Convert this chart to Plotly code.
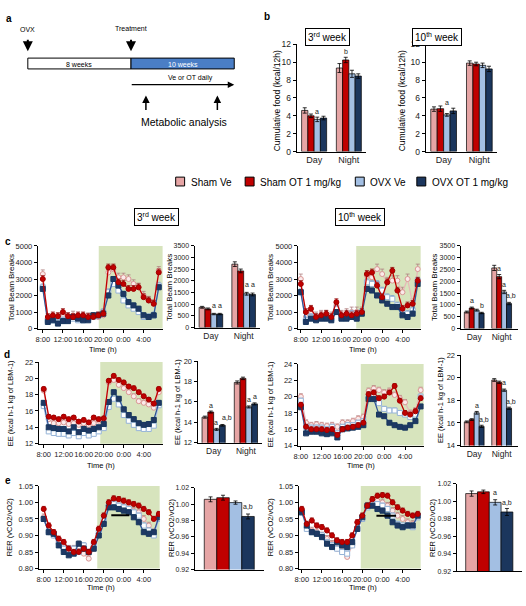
import plotly.graph_objects as go

W, H = 526, 606
FONT = "Liberation Sans, Arial, sans-serif"

# ---------------- data ----------------
groups = ["Sham Ve", "Sham OT 1 mg/kg", "OVX Ve", "OVX OT 1 mg/kg"]
periods = ["Day", "Night"]
hours = list(range(24))
hour_ticks = [0, 4, 8, 12, 16, 20]
hour_labels = ["8:00", "12:00", "16:00", "20:00", "0:00", "4:00"]

# panel b: cumulative food (kcal/12h), [Day, Night] per group
food_w3 = [[4.6, 9.35], [4.0, 10.25], [3.6, 8.7], [3.75, 8.45]]
food_w3_err = [[0.3, 0.5], [0.2, 0.3], [0.25, 0.4], [0.2, 0.25]]
food_w10 = [[4.75, 9.9], [4.8, 9.8], [4.1, 9.65], [4.55, 9.25]]
food_w10_err = [[0.25, 0.25], [0.3, 0.2], [0.15, 0.25], [0.3, 0.3]]

# panel c: total beam breaks (hourly)
beam_w3_sham_ve = [3300, 600, 600, 700, 700, 700, 800, 600, 700, 700, 700, 700, 800, 3400, 3600, 3100, 3100, 3000, 2700, 2500, 2000, 1700, 1500, 3500]
beam_w3_sham_ot = [3000, 700, 800, 750, 1000, 750, 700, 800, 800, 700, 700, 800, 900, 3700, 3700, 2800, 2700, 2400, 2400, 2500, 1900, 1700, 1500, 3400]
beam_w3_ovx_ve = [2500, 500, 500, 400, 500, 600, 600, 500, 500, 600, 700, 800, 1000, 2200, 2700, 2300, 1700, 1400, 1200, 1000, 700, 700, 800, 2600]
beam_w3_ovx_ot = [2400, 400, 500, 300, 450, 450, 700, 600, 500, 500, 800, 800, 900, 2000, 3000, 2600, 2100, 1600, 1400, 1200, 800, 700, 800, 2500]
beam_w10_sham_ve = [3000, 700, 900, 700, 800, 800, 700, 1400, 800, 900, 1000, 1000, 1000, 3200, 3100, 3600, 3300, 2800, 2900, 2900, 2200, 3000, 1500, 3600]
beam_w10_sham_ot = [2700, 1000, 1200, 700, 800, 900, 700, 1600, 800, 900, 800, 900, 1000, 3300, 3400, 2600, 1900, 2800, 3500, 2300, 1200, 1400, 1500, 2900]
beam_w10_ovx_ve = [2200, 500, 700, 600, 700, 700, 600, 1200, 700, 700, 900, 800, 1000, 2800, 2700, 2700, 2300, 1900, 1800, 1400, 900, 900, 1100, 2900]
beam_w10_ovx_ot = [2200, 400, 600, 500, 600, 600, 500, 1000, 600, 600, 700, 600, 900, 2400, 2300, 2000, 1700, 1500, 1300, 1300, 800, 700, 900, 2700]
beam_bar_w3 = [[870, 2720], [800, 2430], [580, 1450], [580, 1420]]
beam_bar_w3_err = [[40, 100], [40, 80], [30, 60], [30, 60]]
beam_bar_w10 = [[700, 2570], [870, 2200], [780, 1550], [660, 1060]]
beam_bar_w10_err = [[40, 110], [40, 90], [40, 70], [30, 50]]

# panel d: energy expenditure
ee_w3_sham_ve = [18.5, 15.0, 14.5, 14.5, 14.6, 14.4, 14.5, 14.3, 14.5, 14.3, 14.5, 14.8, 14.8, 19.5, 19.8, 19.2, 18.8, 18.3, 17.8, 17.2, 17.0, 16.8, 16.4, 18.3]
ee_w3_sham_ot = [18.7, 15.3, 15.2, 15.0, 15.3, 15.0, 15.2, 14.7, 14.9, 14.6, 15.2, 15.0, 15.1, 19.7, 20.3, 19.8, 19.5, 19.0, 18.8, 18.3, 17.8, 17.4, 16.9, 18.7]
ee_w3_ovx_ve = [16.6, 13.5, 13.3, 13.2, 13.2, 13.0, 13.3, 12.9, 13.3, 13.0, 13.2, 13.5, 13.9, 16.5, 17.5, 16.8, 15.5, 14.8, 14.3, 13.9, 13.8, 13.8, 14.2, 16.7]
ee_w3_ovx_ot = [17.0, 14.0, 13.9, 13.8, 13.8, 13.5, 14.0, 13.4, 13.8, 13.6, 13.8, 14.0, 14.4, 17.1, 18.3, 17.5, 16.2, 15.5, 15.0, 14.5, 14.3, 14.4, 14.9, 17.0]
ee_w10_sham_ve = [20.0, 16.8, 16.5, 16.6, 16.5, 16.4, 16.5, 16.3, 16.8, 16.8, 17.0, 17.3, 17.5, 20.7, 21.0, 20.8, 20.5, 20.7, 20.2, 19.8, 19.3, 18.0, 18.3, 20.8]
ee_w10_sham_ot = [19.0, 16.3, 16.0, 16.0, 16.0, 15.9, 16.0, 15.3, 16.0, 16.2, 16.3, 16.5, 16.8, 20.3, 20.5, 19.8, 20.0, 20.5, 21.3, 19.5, 18.0, 17.8, 18.2, 19.8]
ee_w10_ovx_ve = [19.5, 16.3, 16.2, 16.2, 16.2, 16.0, 16.3, 15.5, 16.3, 16.5, 16.5, 16.8, 17.0, 20.0, 20.0, 19.2, 18.5, 18.3, 18.3, 18.0, 17.8, 17.5, 17.8, 20.0]
ee_w10_ovx_ot = [18.7, 15.5, 15.7, 15.7, 15.5, 15.4, 15.5, 15.0, 16.0, 16.1, 16.2, 16.3, 16.5, 19.7, 19.7, 17.8, 17.6, 16.8, 16.5, 16.3, 16.2, 16.5, 17.0, 18.8]
ee_bar_w3 = [[14.5, 17.9], [15.0, 18.3], [13.3, 15.5], [13.7, 15.8]]
ee_bar_w3_err = [[0.1, 0.15], [0.1, 0.12], [0.1, 0.1], [0.08, 0.1]]
ee_bar_w10 = [[16.1, 19.8], [16.3, 19.6], [16.9, 18.9], [15.7, 17.3]]
ee_bar_w10_err = [[0.08, 0.12], [0.08, 0.1], [0.12, 0.1], [0.1, 0.1]]

# panel e: RER
rer_w3_sham_ve = [0.955, 0.91, 0.90, 0.88, 0.87, 0.86, 0.86, 0.85, 0.845, 0.83, 0.86, 0.90, 0.94, 0.99, 1.00, 0.995, 0.99, 0.985, 0.975, 0.97, 0.95, 0.93, 0.91, 0.96]
rer_w3_sham_ot = [0.98, 0.93, 0.91, 0.89, 0.88, 0.86, 0.85, 0.85, 0.86, 0.85, 0.88, 0.92, 0.96, 1.00, 1.012, 1.01, 1.005, 1.00, 0.995, 0.99, 0.98, 0.97, 0.95, 0.965]
rer_w3_ovx_ve = [0.95, 0.91, 0.90, 0.88, 0.86, 0.86, 0.86, 0.85, 0.87, 0.85, 0.87, 0.91, 0.945, 0.99, 0.995, 0.99, 0.985, 0.98, 0.97, 0.96, 0.93, 0.915, 0.90, 0.95]
rer_w3_ovx_ot = [0.95, 0.91, 0.905, 0.87, 0.85, 0.84, 0.845, 0.875, 0.86, 0.85, 0.86, 0.90, 0.935, 0.985, 0.985, 0.98, 0.975, 0.97, 0.955, 0.94, 0.91, 0.905, 0.91, 0.955]
rer_w10_sham_ve = [0.975, 0.92, 0.915, 0.91, 0.90, 0.89, 0.875, 0.86, 0.85, 0.835, 0.87, 0.92, 0.95, 0.99, 1.005, 1.005, 1.00, 0.99, 0.975, 0.96, 0.95, 0.94, 0.935, 0.96]
rer_w10_sham_ot = [0.98, 0.935, 0.945, 0.93, 0.925, 0.915, 0.90, 0.885, 0.88, 0.88, 0.90, 0.94, 0.96, 0.99, 1.01, 1.02, 1.022, 1.02, 1.00, 0.985, 0.975, 0.965, 0.96, 0.965]
rer_w10_ovx_ve = [0.97, 0.92, 0.91, 0.905, 0.90, 0.88, 0.87, 0.86, 0.85, 0.845, 0.87, 0.92, 0.95, 0.985, 0.995, 0.995, 0.99, 0.98, 0.96, 0.935, 0.93, 0.93, 0.925, 0.955]
rer_w10_ovx_ot = [0.97, 0.93, 0.91, 0.905, 0.895, 0.875, 0.865, 0.88, 0.87, 0.865, 0.88, 0.92, 0.955, 0.99, 0.99, 0.98, 0.975, 0.96, 0.94, 0.93, 0.925, 0.93, 0.93, 0.96]
rer_bar_w3 = [1.006, 1.008, 1.002, 0.985]
rer_bar_w3_err = [0.003, 0.003, 0.002, 0.003]
rer_bar_w10 = [1.009, 1.011, 0.999, 0.988]
rer_bar_w10_err = [0.003, 0.002, 0.003, 0.004]

# ---------------- styles ----------------
bar_colors = ["#E6A5A5", "#C00000", "#A3BFE3", "#1B365D"]
line_colors = ["#E6B9B8", "#C00000", "#B4C8E6", "#2F5597"]
marker_fill = ["#FBEAEA", "#C00000", "#FFFFFF", "#1F3864"]
marker_edge = ["#D99694", "#A00000", "#95B3D7", "#17375E"]
err_colors = ["#B08080", "#900000", "#7F9FC8", "#17375E"]
marker_symbol = ["circle", "circle", "square", "square"]
draw_order = [0, 2, 3, 1]
GREEN = "#D7E4BD"
BARGAP = 0.28
TICK = 7.5

fig = go.Figure()
layout = dict(width=W, height=H, margin=dict(l=0, r=0, t=0, b=0),
              paper_bgcolor="white", plot_bgcolor="rgba(0,0,0,0)",
              showlegend=False, barmode="group", bargap=BARGAP, bargroupgap=0,
              font=dict(family=FONT, color="black"))
shapes, annotations = [], []


def ax_names(n):
    return ("x" if n == 1 else f"x{n}"), ("y" if n == 1 else f"y{n}")


def make_axes(n, x0, x1, ytop, ybot, yr, dtick, xkind, xr=None, tfs=TICK, xfs=8.5, yfmt=None):
    xs, ys = ax_names(n)
    common = dict(showline=True, linecolor="black", linewidth=1, showgrid=False,
                  zeroline=False, tickcolor="black", tickwidth=1, tickangle=0,
                  tickfont=dict(size=tfs, family=FONT, color="#222"))
    xa = dict(common, domain=[x0 / W, x1 / W], anchor=ys)
    if xkind == "hours":
        xa.update(range=xr, tickvals=hour_ticks, ticktext=hour_labels, ticks="outside", ticklen=3,
                  tickfont=dict(size=TICK, family=FONT, color="#222"))
    elif xkind == "cat":
        xa.update(type="category", ticks="", tickfont=dict(size=xfs, family=FONT, color="#222"))
    else:
        xa.update(type="category", ticks="", showticklabels=False)
    ya = dict(common, domain=[1 - ybot / H, 1 - ytop / H], anchor=xs, range=yr,
              dtick=dtick, tick0=yr[0], ticks="outside", ticklen=3)
    if yfmt:
        ya["tickformat"] = yfmt
    layout["xaxis" if n == 1 else f"xaxis{n}"] = xa
    layout["yaxis" if n == 1 else f"yaxis{n}"] = ya


def add_bars(n, values, errs, cats):
    xs, ys = ax_names(n)
    for i in range(4):
        yv = values[i] if isinstance(values[i], list) else [values[i]]
        ev = errs[i] if isinstance(errs[i], list) else [errs[i]]
        fig.add_trace(go.Bar(x=cats, y=yv, name=groups[i], xaxis=xs, yaxis=ys,
                             marker=dict(color=bar_colors[i], line=dict(color="black", width=0.7)),
                             error_y=dict(type="data", array=ev, color="black", thickness=0.8, width=2),
                             showlegend=False))


def add_lines(n, series, errval, xr, shade_start):
    xs, ys = ax_names(n)
    shapes.append(dict(type="rect", xref=xs, yref=f"{ys} domain", x0=shade_start, x1=xr[1],
                       y0=0, y1=1, fillcolor=GREEN, line=dict(width=0), layer="below"))
    for i in draw_order:
        fig.add_trace(go.Scatter(x=hours, y=series[i], xaxis=xs, yaxis=ys, mode="lines+markers",
                                 name=groups[i],
                                 line=dict(color=line_colors[i], width=1.3),
                                 marker=dict(symbol=marker_symbol[i], size=5, color=marker_fill[i],
                                             line=dict(color=marker_edge[i], width=1)),
                                 error_y=dict(type="constant", value=errval[i], valueminus=0,
                                              symmetric=False, color=err_colors[i], thickness=0.8, width=2),
                                 showlegend=False))


def txt(x, y, text, size=8, color="black", angle=0, xanchor="center", yanchor="middle", bold=False, **kw):
    if bold:
        text = f"<b>{text}</b>"
    annotations.append(dict(x=x / W, y=1 - y / H, xref="paper", yref="paper", text=text,
                            showarrow=False, font=dict(size=size, color=color, family=FONT),
                            textangle=angle, xanchor=xanchor, yanchor=yanchor, **kw))


def letter(n, cat_idx, grp, y, text, xshift=0):
    xs, ys = ax_names(n)
    w = (1 - BARGAP) / 4
    xoff = -(1 - BARGAP) / 2 + w * (grp + 0.5)
    annotations.append(dict(x=cat_idx + xoff, y=y, xref=xs, yref=ys, text=text, showarrow=False,
                            font=dict(size=7, family=FONT, color="#222"), yanchor="bottom",
                            xshift=xshift))


def arrow(x_tip, y_tip, ax, ay, width=1.5):
    annotations.append(dict(x=x_tip / W, y=1 - y_tip / H, xref="paper", yref="paper", text="",
                            showarrow=True, ax=ax, ay=ay, axref="pixel", ayref="pixel",
                            arrowhead=2, arrowsize=1, arrowwidth=width, arrowcolor="black"))


def prect(x0, y0, x1, y1, fill, lw=1):
    shapes.append(dict(type="rect", xref="paper", yref="paper", x0=x0 / W, x1=x1 / W,
                       y0=1 - y1 / H, y1=1 - y0 / H, fillcolor=fill, line=dict(color="black", width=lw)))


def week_box(cx, cy, label):
    annotations.append(dict(x=cx / W, y=1 - cy / H, xref="paper", yref="paper", text=label,
                            showarrow=False, font=dict(size=10, family=FONT, color="black"),
                            bordercolor="black", borderwidth=1, borderpad=2, bgcolor="white"))


# ---------------- panel a ----------------
txt(5, 14, "a", size=10, bold=True)
txt(24, 25, "OVX", size=7)
arrow(24, 47, 0, -13, width=2)
txt(128, 24, "Treatment", size=7)
arrow(128, 47, 0, -13, width=2)
prect(24, 54, 128, 65, "white")
prect(128, 54, 232, 65, "#4A7EC6")
txt(76, 60, "8 weeks", size=7)
txt(180, 60, "10 weeks", size=7, color="white")
txt(188, 74, "Ve or OT daily", size=7)
arrow(232, 81, -104, 0, width=1.3)
arrow(143, 92, 0, 16, width=1.5)
arrow(215, 92, 0, 16, width=1.5)
txt(181, 119, "Metabolic analysis", size=10.5)

# ---------------- panel b ----------------
txt(265, 12, "b", size=10, bold=True)
make_axes(1, 295, 365, 40, 149, [0, 12], 2, "cat", tfs=8.5, xfs=9)
add_bars(1, food_w3, food_w3_err, periods)
make_axes(2, 425, 497, 40, 149, [0, 12], 2, "cat", tfs=8.5, xfs=9)
add_bars(2, food_w10, food_w10_err, periods)
txt(275, 97, "Cumulative food (kcal/12h)", size=8.5, angle=-90)
txt(401, 97, "Cumulative food (kcal/12h)", size=8.5, angle=-90)
week_box(326, 23, "3<sup>rd</sup> week")
week_box(462, 23, "10<sup>th</sup> week")
letter(1, 0, 2, 3.9, "a")
letter(1, 1, 1, 10.6, "b")
letter(2, 0, 2, 4.9, "a")

# legend
leg_x = [173, 243, 354, 416]
for i in range(4):
    prect(leg_x[i], 175, leg_x[i] + 9, 184, bar_colors[i], lw=1)
    txt(leg_x[i] + 13, 180, groups[i], size=10, xanchor="left")

# week boxes for c-e
week_box(131, 216, "3<sup>rd</sup> week")
week_box(384, 216, "10<sup>th</sup> week")

# ---------------- panel c ----------------
txt(4, 240, "c", size=10, bold=True)
XR_L = [-1, 23.8]
XR_R = [-0.6, 23.6]
make_axes(3, 34, 160, 245, 329, [0, 5000], 1000, "hours", XR_L)
add_lines(3, [beam_w3_sham_ve, beam_w3_sham_ot, beam_w3_ovx_ve, beam_w3_ovx_ot], [250, 200, 200, 150], XR_L, 11.1)
make_axes(4, 192, 258, 245, 328, [0, 3500], 500, "cat", tfs=7)
add_bars(4, beam_bar_w3, beam_bar_w3_err, periods)
make_axes(5, 296, 420, 245, 329, [0, 5000], 1000, "hours", XR_R)
add_lines(5, [beam_w10_sham_ve, beam_w10_sham_ot, beam_w10_ovx_ve, beam_w10_ovx_ot], [300, 200, 200, 150], XR_R, 10.9)
make_axes(6, 460, 518, 245, 329, [0, 3500], 500, "cat", tfs=7)
add_bars(6, beam_bar_w10, beam_bar_w10_err, periods)
for x in [7, 167, 268, 434]:
    txt(x, 287, "Total Beam Breaks", size=8, angle=-90)
txt(100, 350, "Time (h)", size=7.5)
txt(362, 350, "Time (h)", size=7.5)
letter(4, 0, 2, 700, "a")
letter(4, 0, 3, 700, "a")
letter(4, 1, 2, 1600, "a")
letter(4, 1, 3, 1600, "a")
letter(6, 0, 1, 950, "a")
letter(6, 0, 3, 750, "b")
letter(6, 1, 1, 2330, "a")
letter(6, 1, 2, 1650, "a")
letter(6, 1, 3, 1150, "a,b", xshift=2)

# ---------------- panel d ----------------
txt(3, 355, "d", size=10, bold=True)
make_axes(7, 35, 160, 363, 446, [12, 22], 2, "hours", XR_L)
add_lines(7, [ee_w3_sham_ve, ee_w3_sham_ot, ee_w3_ovx_ve, ee_w3_ovx_ot], [0.3, 0.25, 0.25, 0.25], XR_L, 11.3)
make_axes(8, 195, 260, 362, 445, [12, 20], 2, "cat")
add_bars(8, ee_bar_w3, ee_bar_w3_err, periods)
make_axes(9, 296, 423, 365, 448, [14, 24], 2, "hours", XR_R)
add_lines(9, [ee_w10_sham_ve, ee_w10_sham_ot, ee_w10_ovx_ve, ee_w10_ovx_ot], [0.35, 0.3, 0.3, 0.2], XR_R, 11.5)
make_axes(10, 460, 518, 356, 448, [14, 22], 2, "cat")
add_bars(10, ee_bar_w10, ee_bar_w10_err, periods)
txt(6, 405, "EE (kcal h-1 kg of LBM-1)", size=7.5, angle=-90)
txt(175, 404, "EE (kcal h-1 kg of LBM-1)", size=7.5, angle=-90)
txt(268, 406, "EE (kcal h-1 kg of LBM-1)", size=7.5, angle=-90)
txt(440, 402, "EE (kcal h-1 kg of LBM-1)", size=7.5, angle=-90)
txt(98, 468, "Time (h)", size=7.5)
txt(360, 468, "Time (h)", size=7.5)
letter(8, 0, 1, 15.15, "a")
letter(8, 0, 2, 13.4, "a", xshift=-1)
letter(8, 0, 3, 13.95, "a,b", xshift=5)
letter(8, 1, 2, 15.65, "a")
letter(8, 1, 3, 15.95, "a")
letter(10, 0, 2, 17.05, "a")
letter(10, 0, 3, 15.85, "a,b", xshift=2)
letter(10, 1, 2, 19.05, "a")
letter(10, 1, 3, 17.45, "a,b", xshift=2)

# ---------------- panel e ----------------
txt(4, 483, "e", size=10, bold=True)
XR_L2 = [-1, 23.2]
make_axes(11, 35, 157, 489, 573, [0.80, 1.05], 0.05, "hours", XR_L2, yfmt=".2f")
add_lines(11, [rer_w3_sham_ve, rer_w3_sham_ot, rer_w3_ovx_ve, rer_w3_ovx_ot], [0.01, 0.008, 0.008, 0.008], XR_L2, 10.7)
make_axes(12, 192, 262, 491, 574, [0.92, 1.02], 0.02, "none", tfs=7, yfmt=".2f")
add_bars(12, rer_bar_w3, rer_bar_w3_err, [""])
make_axes(13, 297, 420, 489, 573, [0.80, 1.05], 0.05, "hours", XR_R, yfmt=".2f")
add_lines(13, [rer_w10_sham_ve, rer_w10_sham_ot, rer_w10_ovx_ve, rer_w10_ovx_ot], [0.01, 0.008, 0.008, 0.008], XR_R, 11.7)
make_axes(14, 456, 522, 487, 576, [0.92, 1.02], 0.02, "none", tfs=7, yfmt=".2f")
add_bars(14, rer_bar_w10, rer_bar_w10_err, [""])
txt(5, 531, "RER (vCO2/vO2)", size=7.5, angle=-90)
txt(168, 532, "RER (vCO2/vO2)", size=7.5, angle=-90)
txt(268, 531, "RER (vCO2/vO2)", size=7.5, angle=-90)
txt(431, 532, "RER (vCO2/vO2)", size=7.5, angle=-90)
txt(98, 592, "Time (h)", size=7.5)
txt(362, 592, "Time (h)", size=7.5)
shapes.append(dict(type="line", xref="x11", yref="y11", x0=13.5, x1=17.1, y0=0.961, y1=0.961,
                   line=dict(color="black", width=2)))
shapes.append(dict(type="line", xref="x13", yref="y13", x0=14.8, x1=18.7, y0=0.96, y1=0.96,
                   line=dict(color="black", width=2)))
letter(12, 0, 3, 0.99, "a,b")
letter(14, 0, 2, 1.004, "a")
letter(14, 0, 3, 0.993, "a,b")

layout["shapes"] = shapes
layout["annotations"] = annotations
fig.update_layout(**layout)
fig.write_html("out.html", config={"displayModeBar": False},
               post_script="document.body.style.margin='0px';document.body.style.padding='0px';")
